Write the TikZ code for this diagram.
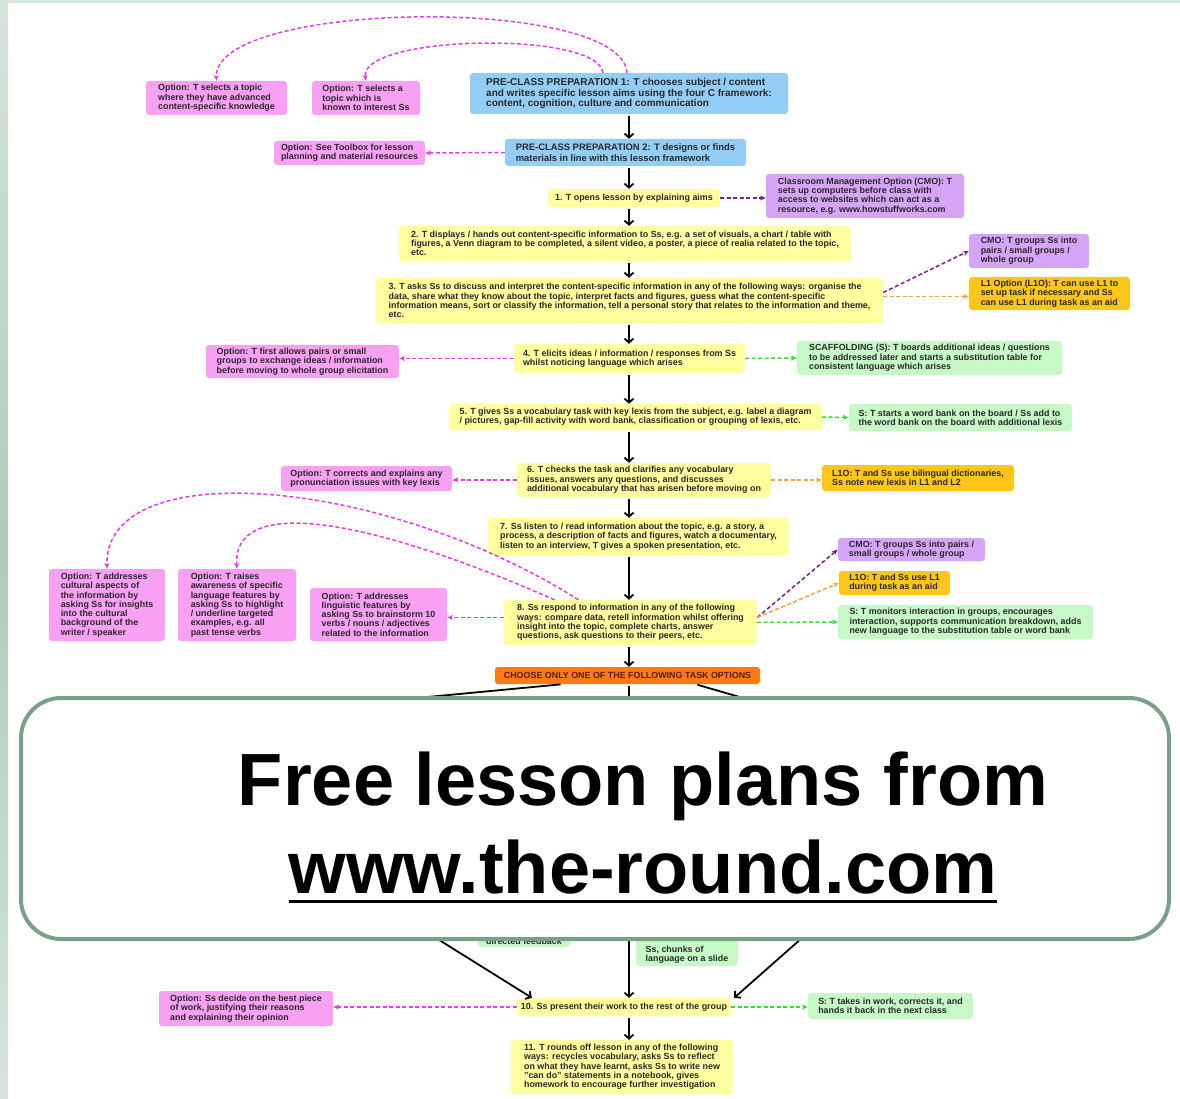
\documentclass[tikz,border=0pt]{standalone}
\usepackage{fontspec}
\setmainfont{Liberation Sans}
\usetikzlibrary{arrows.meta}
\usetikzlibrary{calc}

\definecolor{yel}{RGB}{255,255,160}
\definecolor{pnk}{RGB}{248,160,244}
\definecolor{blu}{RGB}{147,205,245}
\definecolor{vio}{RGB}{214,164,246}
\definecolor{gld}{RGB}{255,198,26}
\definecolor{grn}{RGB}{198,249,198}
\definecolor{org}{RGB}{255,122,20}
\definecolor{txt}{RGB}{40,40,40}
\definecolor{brn}{RGB}{90,30,0}
\definecolor{magarr}{RGB}{230,60,230}
\definecolor{vioarr}{RGB}{122,31,140}
\definecolor{orgarr}{RGB}{240,165,64}
\definecolor{grnarr}{RGB}{50,220,50}
\definecolor{ovl}{RGB}{122,160,138}
\definecolor{bgd}{RGB}{178,202,186}
\definecolor{bgl}{RGB}{214,228,219}

\begin{document}
\begin{tikzpicture}[x=1pt,y=-1pt,
    box/.style={rounded corners=3pt, align=left, inner sep=2pt, text=txt,
      font=\bfseries\fontsize{8.9}{9.3}\selectfont},
    ybox/.style={box, fill=yel},
    pbox/.style={box, fill=pnk},
    bbox/.style={box, fill=blu, font=\bfseries\fontsize{10}{10.3}\selectfont},
    vbox/.style={box, fill=vio},
    obox/.style={box, fill=gld},
    gbox/.style={box, fill=grn},
    flow/.style={line width=1.8pt, -{Straight Barb[length=4pt,width=9pt]}, shorten <=2pt},
    opt/.style={line width=1.5pt, dash pattern=on 4pt off 2.5pt, -{Stealth[length=6pt,width=5pt]}},
    ad/.style={inner sep=0pt, font=\bfseries\fontsize{74}{88}\selectfont}]
  \useasboundingbox (0,0) rectangle (1180,1099);
  \shade[top color=bgl, bottom color=bgl, middle color=bgd] (0,0) rectangle (8,1099);
  \fill[bgl] (8,0) rectangle (1180,3);

  % preparation
  \node[bbox, minimum width=318, minimum height=41] (p1) at (629,93.5)
    {PRE-CLASS PREPARATION 1: T chooses subject / content\\and writes specific lesson aims using the four C framework:\\content, cognition, culture and communication};
  \node[pbox, minimum width=141, minimum height=34] (oa) at (216.5,98)
    {Option: T selects a topic\\where they have advanced\\content-specific knowledge};
  \node[pbox, minimum width=108, minimum height=34] (ob) at (366,98)
    {Option: T selects a\\topic which is\\known to interest Ss};
  \node[bbox, minimum width=241, minimum height=27,
    font=\bfseries\fontsize{9.4}{10.3}\selectfont] (p2) at (625.5,152.5)
    {PRE-CLASS PREPARATION 2: T designs or finds\\materials in line with this lesson framework};
  \node[pbox, minimum width=151, minimum height=24] (oc) at (349.5,153)
    {Option: See Toolbox for lesson\\planning and material resources};

  % steps 1-3
  \node[ybox, minimum width=172, minimum height=18] (s1) at (634,198)
    {1. T opens lesson by explaining aims};
  \node[vbox, minimum width=198, minimum height=44] (c1) at (865,196)
    {Classroom Management Option (CMO): T\\sets up computers before class with\\access to websites which can act as a\\resource, e.g. www.howstuffworks.com};
  \node[ybox, minimum width=452, minimum height=35] (s2) at (625,243.5)
    {2. T displays / hands out content-specific information to Ss, e.g. a set of visuals, a chart / table with\\figures, a Venn diagram to be completed, a silent video, a poster, a piece of realia related to the topic,\\etc.};
  \node[ybox, minimum width=507, minimum height=45] (s3) at (629.5,300.5)
    {3. T asks Ss to discuss and interpret the content-specific information in any of the following ways: organise the\\data, share what they know about the topic, interpret facts and figures, guess what the content-specific\\information means, sort or classify the information, tell a personal story that relates to the information and theme,\\etc.};
  \node[vbox, minimum width=120, minimum height=34] (c2) at (1029,251)
    {CMO: T groups Ss into\\pairs / small groups /\\whole group};
  \node[obox, minimum width=161, minimum height=33] (l1) at (1049.5,293.5)
    {L1 Option (L1O): T can use L1 to\\set up task if necessary and Ss\\can use L1 during task as an aid};

  % steps 4-6
  \node[ybox, minimum width=231, minimum height=29] (s4) at (629.5,358.5)
    {4. T elicits ideas / information / responses from Ss\\whilst noticing language which arises};
  \node[pbox, minimum width=193, minimum height=33] (od) at (302.5,361.5)
    {Option: T first allows pairs or small\\groups to exchange ideas / information\\before moving to whole group elicitation};
  \node[gbox, minimum width=265, minimum height=34] (sc1) at (929.5,358)
    {SCAFFOLDING (S): T boards additional ideas / questions\\to be addressed later and starts a substitution table for\\consistent language which arises};
  \node[ybox, minimum width=373, minimum height=26] (s5) at (635.5,417)
    {5. T gives Ss a vocabulary task with key lexis from the subject, e.g. label a diagram\\/ pictures, gap-fill activity with word bank, classification or grouping of lexis, etc.};
  \node[gbox, minimum width=223, minimum height=27] (sc2) at (960.5,417.5)
    {S: T starts a word bank on the board / Ss add to\\the word bank on the board with additional lexis};
  \node[ybox, minimum width=254, minimum height=34] (s6) at (644,480)
    {6. T checks the task and clarifies any vocabulary\\issues, answers any questions, and discusses\\additional vocabulary that has arisen before moving on};
  \node[pbox, minimum width=171, minimum height=25] (oe) at (366.5,478.5)
    {Option: T corrects and explains any\\pronunciation issues with key lexis};
  \node[obox, minimum width=192, minimum height=26] (l2) at (918,478)
    {L1O: T and Ss use bilingual dictionaries,\\Ss note new lexis in L1 and L2};

  % steps 7-8
  \node[ybox, minimum width=301, minimum height=37] (s7) at (638.5,536.5)
    {7. Ss listen to / read information about the topic, e.g. a story, a\\process, a description of facts and figures, watch a documentary,\\listen to an interview, T gives a spoken presentation, etc.};
  \node[ybox, minimum width=253, minimum height=45] (s8) at (630.5,622.5)
    {8. Ss respond to information in any of the following\\ways: compare data, retell information whilst offering\\insight into the topic, complete charts, answer\\questions, ask questions to their peers, etc.};
  \node[pbox, minimum width=116, minimum height=72] (of) at (107,605)
    {Option: T addresses\\cultural aspects of\\the information by\\asking Ss for insights\\into the cultural\\background of the\\writer / speaker};
  \node[pbox, minimum width=118, minimum height=72] (og) at (237,605)
    {Option: T raises\\awareness of specific\\language features by\\asking Ss to highlight\\/ underline targeted\\examples, e.g. all\\past tense verbs};
  \node[pbox, minimum width=137, minimum height=53] (oh) at (378.5,614.5)
    {Option: T addresses\\linguistic features by\\asking Ss to brainstorm 10\\verbs / nouns / adjectives\\related to the information};
  \node[vbox, minimum width=147, minimum height=23] (c3) at (911.5,549.5)
    {CMO: T groups Ss into pairs /\\small groups / whole group};
  \node[obox, minimum width=111, minimum height=24] (l3) at (894.5,583)
    {L1O: T and Ss use L1\\during task as an aid};
  \node[gbox, minimum width=255, minimum height=34] (sc3) at (965.5,622)
    {S: T monitors interaction in groups, encourages\\interaction, supports communication breakdown, adds\\new language to the substitution table or word bank};
  \node[box, fill=org, text=brn, minimum width=265, minimum height=17,
    font=\bfseries\fontsize{8.9}{9}\selectfont] (ch) at (627.5,675.5)
    {CHOOSE ONLY ONE OF THE FOLLOWING TASK OPTIONS};

  % task options (mostly hidden)
  \coordinate (ta) at (185,720);
  \coordinate (tb) at (629,730);
  \coordinate (tc) at (819,720);
  \coordinate (ba) at (327,870);
  \coordinate (bb) at (629,880);
  \coordinate (bc) at (879,870);
  \node[gbox, minimum width=92, text height=40pt, anchor=south] (g1) at (524,947)
    {directed feedback};
  \node[gbox, minimum width=102, text height=40pt, anchor=south] (g2) at (687,966)
    {Ss, chunks of\\language on a slide};

  % steps 10-11
  \node[ybox, minimum width=214, minimum height=18] (s10) at (624,1007)
    {10. Ss present their work to the rest of the group};
  \node[pbox, minimum width=174, minimum height=35] (oi) at (246,1008.5)
    {Option: Ss decide on the best piece\\of work, justifying their reasons\\and explaining their opinion};
  \node[gbox, minimum width=165, minimum height=26] (sc4) at (890.5,1006)
    {S: T takes in work, corrects it, and\\hands it back in the next class};
  \node[ybox, minimum width=222, minimum height=54] (s11) at (622,1067)
    {11. T rounds off lesson in any of the following\\ways: recycles vocabulary, asks Ss to reflect\\on what they have learnt, asks Ss to write new\\"can do" statements in a notebook, gives\\homework to encourage further investigation};

  % main flow
  \draw[flow] (p1.south -| p1) -- (p2.north -| p1);
  \draw[flow] (p2.south -| p1) -- (s1.north -| p1);
  \draw[flow] (s1.south -| p1) -- (s2.north -| p1);
  \draw[flow] (s2.south -| p1) -- (s3.north -| p1);
  \draw[flow] (s3.south -| p1) -- (s4.north -| p1);
  \draw[flow] (s4.south -| p1) -- (s5.north -| p1);
  \draw[flow] (s5.south -| p1) -- (s6.north -| p1);
  \draw[flow] (s6.south -| p1) -- (s7.north -| p1);
  \draw[flow] (s7.south -| p1) -- (s8.north -| p1);
  \draw[flow] (s8.south -| p1) -- (ch.north -| p1);
  \draw[flow] ([xshift=-65pt]ch.south) -- (ta);
  \draw[flow] (ch.south -| p1) -- (tb);
  \draw[flow] ([xshift=68pt]ch.south) -- (tc);
  \draw[flow] (ba) -- ([xshift=15pt]s10.north west);
  \draw[flow] (bb) -- (s10.north -| p1);
  \draw[flow] (bc) -- ([xshift=3pt]s10.north east);
  \draw[flow] (s10.south -| p1) -- (s11.north -| p1);

  % options
  \coordinate (s3a) at ([yshift=4pt]s3.east);
  \coordinate (s8a) at ([yshift=5pt]s8.east);
  \coordinate (s8b) at ([yshift=5pt]s8.west);
  \draw[opt, magarr] ([xshift=-2pt]p1.north) .. controls (622,-5) and (213,0) .. (oa.north);
  \draw[opt, magarr] ([xshift=-26pt]p1.north) .. controls (598,30) and (358,35) .. (ob.north);
  \draw[opt, magarr] (p2.west) -- (oc.east);
  \draw[opt, vioarr] (s1.east) -- (c1.west |- s1.east);
  \draw[opt, vioarr] ([yshift=8pt]s3.east) -- (c2.west);
  \draw[opt, orgarr] (s3a) -- (l1.west |- s3a);
  \draw[opt, magarr] (s4.west) -- (od.east |- s4.west);
  \draw[opt, grnarr] (s4.east) -- (sc1.west);
  \draw[opt, grnarr] (s5.east) -- (sc2.west);
  \draw[opt, magarr] (s6.west) -- (oe.east |- s6.west);
  \draw[opt, orgarr] (s6.east) -- (l2.west |- s6.east);
  \draw[opt, magarr] ([xshift=-52pt]s8.north) .. controls (380,475) and (104,455) .. (of.north);
  \draw[opt, magarr] ([xshift=-76pt]s8.north) .. controls (350,510) and (232,500) .. (og.north);
  \draw[opt, magarr] (s8b) -- (oh.east |- s8b);
  \draw[opt, vioarr] (s8a) -- (c3.west);
  \draw[opt, orgarr] (s8a) -- (l3.west);
  \draw[opt, grnarr] (s8.east) -- (sc3.west);
  \draw[opt, magarr] (s10.west) -- (oi.east |- s10.west);
  \draw[opt, grnarr] (s10.east) -- (sc4.west |- s10.east);

  % advert
  \draw[line width=4pt, ovl, fill=white, rounded corners=40pt] (21,698) rectangle (1169,939);
  \node[ad, anchor=base] (ad1) at (643,805) {Free lesson plans from};
  \node[ad, anchor=base] (ad2) at (643,893) {www.the-round.com};
  \draw[line width=3.5pt] ([yshift=-8.5pt]ad2.base west) -- ([yshift=-8.5pt]ad2.base east);
\end{tikzpicture}
\end{document}
